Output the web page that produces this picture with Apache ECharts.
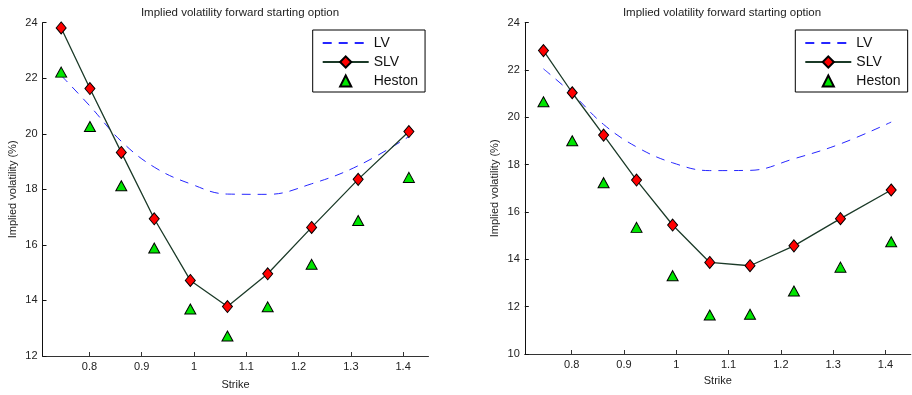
<!DOCTYPE html>
<html>
<head>
<meta charset="utf-8">
<script src="https://cdn.jsdelivr.net/npm/echarts@6/dist/echarts.min.js"></script>
<style>html,body{margin:0;padding:0;background:#fff}#c{width:912px;height:395px}</style>
</head>
<body>
<div id="c"></div>
<script>
var strikes = [0.746, 0.801, 0.861, 0.924, 0.993, 1.064, 1.141, 1.225, 1.314, 1.411];
var xTicks = [0.8, 0.9, 1.0, 1.1, 1.2, 1.3, 1.4];
var lvLeft = [22.1, 21.0, 19.73, 18.8, 18.2, 17.83, 17.82, 18.2, 18.85, 19.9];
var slvLeft = [23.81, 21.63, 19.33, 16.94, 14.72, 13.78, 14.96, 16.63, 18.36, 20.08];
var hestonLeft = [22.22, 20.26, 18.13, 15.89, 13.69, 12.72, 13.77, 15.30, 16.88, 18.43];
var lvRight = [22.05, 21.0, 19.7, 18.75, 18.08, 17.75, 17.76, 18.25, 18.88, 19.8];
var slvRight = [22.82, 21.04, 19.25, 17.35, 15.45, 13.87, 13.73, 14.57, 15.72, 16.93];
var hestonRight = [20.66, 19.01, 17.24, 15.35, 13.31, 11.65, 11.68, 12.66, 13.67, 14.74];
var titleText = 'Implied volatility forward starting option';
var seriesNames = ['LV', 'SLV', 'Heston'];

var FONT = '"Liberation Sans", Arial, sans-serif';
function pairs(xs, ys) { return xs.map(function (x, i) { return [x, ys[i]]; }); }

function xAxis(gi) {
  return {
    gridIndex: gi, type: 'value', min: 0.7103, max: 1.4485,
    name: 'Strike', nameLocation: 'middle', nameGap: gi === 0 ? 23 : 21,
    nameTextStyle: { fontFamily: FONT, fontSize: 11, color: '#222' },
    splitLine: { show: false },
    axisLine: { lineStyle: { color: '#333', width: 1 } },
    axisTick: { inside: true, length: 4, customValues: xTicks, lineStyle: { color: '#333' } },
    axisLabel: { customValues: xTicks, margin: 5, fontFamily: FONT, fontSize: 11, color: '#222',
      formatter: function (v) { return String(Math.round(v * 10) / 10); } }
  };
}
function yAxis(gi, mn) {
  return {
    gridIndex: gi, type: 'value', min: mn, max: 24, interval: 2,
    name: 'Implied volatility (%)', nameLocation: 'middle', nameGap: 24,
    nameTextStyle: { fontFamily: FONT, fontSize: 11, color: '#222' },
    splitLine: { show: false },
    axisLine: { show: true, lineStyle: { color: '#111', width: 1 } },
    axisTick: { show: true, inside: true, length: 4, lineStyle: { color: '#111' } },
    axisLabel: { margin: 5, fontFamily: FONT, fontSize: 11, color: '#222' }
  };
}
function seriesFor(gi, lv, slv, hes) {
  return [
    { name: 'LV', type: 'line', xAxisIndex: gi, yAxisIndex: gi, data: pairs(strikes, lv),
      smooth: 0.4, showSymbol: false, symbol: 'none',
      lineStyle: { color: '#2626ff', width: 1, type: [9, 7] }, itemStyle: { color: '#2626ff' } },
    { name: 'SLV', type: 'line', xAxisIndex: gi, yAxisIndex: gi, data: pairs(strikes, slv),
      symbol: 'diamond', symbolSize: [10, 12],
      lineStyle: { color: '#1b3a28', width: 1.3 },
      itemStyle: { color: '#ff0000', borderColor: '#000', borderWidth: 1 } },
    { name: 'Heston', type: 'line', xAxisIndex: gi, yAxisIndex: gi, data: pairs(strikes, hes),
      symbol: 'triangle', symbolSize: [11, 10], showSymbol: true,
      lineStyle: { width: 0, opacity: 0 },
      itemStyle: { color: '#00e600', borderColor: '#000', borderWidth: 1, opacity: 1 } }
  ];
}
function legend(left) {
  return {
    data: [
      { name: 'LV', itemStyle: { opacity: 0 } },
      { name: 'SLV' },
      { name: 'Heston' }
    ],
    orient: 'vertical', left: left, top: 30,
    backgroundColor: '#fff', borderColor: '#000', borderWidth: 1, borderRadius: 0,
    padding: [6, 7, 4, 9], itemWidth: 46, itemHeight: 14, itemGap: 5,
    textStyle: { fontFamily: FONT, fontSize: 14, color: '#111' }, selectedMode: false
  };
}

var chart = echarts.init(document.getElementById('c'), null, { renderer: 'canvas' });
chart.setOption({
  animation: false,
  backgroundColor: '#fff',
  title: [
    { text: titleText, left: 235, top: 2, textAlign: 'center',
      textStyle: { fontFamily: FONT, fontSize: 11.5, fontWeight: 'normal', color: '#222' } },
    { text: titleText, left: 717, top: 2, textAlign: 'center',
      textStyle: { fontFamily: FONT, fontSize: 11.5, fontWeight: 'normal', color: '#222' } }
  ],
  grid: [
    { left: 42.5, top: 22.7, width: 386, height: 336.6 },
    { left: 524.8, top: 22.7, width: 386, height: 331.3 }
  ],
  legend: [legend(312.7), legend(795.3)],
  xAxis: [xAxis(0), xAxis(1)],
  yAxis: [yAxis(0, 12), yAxis(1, 10)],
  series: seriesFor(0, lvLeft, slvLeft, hestonLeft).concat(seriesFor(1, lvRight, slvRight, hestonRight))
});
</script>
</body>
</html>
